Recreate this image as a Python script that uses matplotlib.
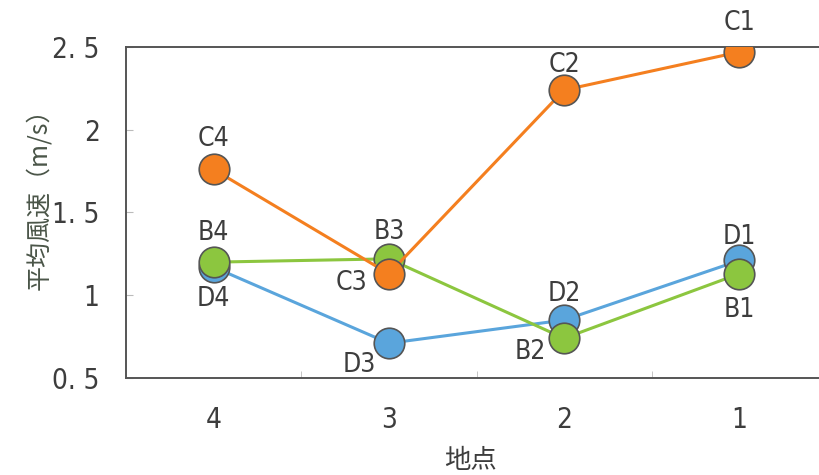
import matplotlib
matplotlib.use("Agg")
import matplotlib.pyplot as plt

plt.rcParams['font.family'] = ['DejaVu Sans', 'Noto Sans CJK JP']
plt.rcParams['font.stretch'] = 'condensed'

sites = ["4", "3", "2", "1"]
y_ticks = [0.5, 1.0, 1.5, 2.0, 2.5]
y_tick_labels = ["0. 5", "1", "1. 5", "2", "2. 5"]

series_b = [1.20, 1.22, 0.74, 1.13]
series_c = [1.76, 1.13, 2.24, 2.47]
series_d = [1.17, 0.71, 0.85, 1.21]

labels_b = ["B4", "B3", "B2", "B1"]
labels_c = ["C4", "C3", "C2", "C1"]
labels_d = ["D4", "D3", "D2", "D1"]

col_b = "#8cc63f"
col_c = "#f47f1f"
col_d = "#5aa5dc"
text_col = "#3d3d3d"
edge_col = "#555555"

fig = plt.figure(figsize=(8.19, 4.75), dpi=100)
ax = fig.add_axes([126 / 819, 97 / 475, 701 / 819, 331 / 475])

x = list(range(len(sites)))

for vals, col, z in [(series_d, col_d, 3), (series_b, col_b, 4), (series_c, col_c, 5)]:
    ax.plot(x, vals, color=col, lw=2.2, zorder=z, solid_capstyle="round")
    ax.plot(x, vals, ls="none", marker="o", ms=22, mfc=col, mec=edge_col,
            mew=1.2, zorder=z + 0.5)

# point labels: (dx, dy) offsets in points
offsets_b = [(0, 21), (0, 19), (-24, -10), (0, -26)]
offsets_c = [(0, 22), (-27, -7), (0, 18), (0, 21)]
offsets_d = [(0, -23), (-21, -16), (0, 19), (0, 17)]

for vals, labs, offs in [(series_b, labels_b, offsets_b),
                         (series_c, labels_c, offsets_c),
                         (series_d, labels_d, offsets_d)]:
    for xi, v, lab, (dx, dy) in zip(x, vals, labs, offs):
        ax.annotate(lab, (xi, v), xytext=(dx, dy), textcoords="offset points",
                    ha="center", va="center", fontsize=19, color=text_col,
                    zorder=10)

ax.set_xlim(-0.5, len(sites) - 0.5)
ax.set_ylim(0.5, 2.5)

ax.set_xticks(x)
ax.set_xticklabels(sites)
ax.set_xticks([i + 0.5 for i in range(len(sites) - 1)], minor=True)
ax.tick_params(axis="x", which="major", length=0, pad=20, labelsize=20,
               labelcolor=text_col)
ax.tick_params(axis="x", which="minor", direction="in", length=5,
               color="#bbbbbb")

ax.set_yticks(y_ticks)
ax.set_yticklabels(y_tick_labels)
ax.tick_params(axis="y", direction="in", length=5, pad=19, labelsize=20,
               labelcolor=text_col, color="#bbbbbb")

for side in ["left", "top", "bottom"]:
    ax.spines[side].set_color(edge_col)
    ax.spines[side].set_linewidth(1.4)
ax.spines["right"].set_visible(False)

ax.set_ylabel("平均風速（m/s）", fontsize=18, color="#4a5548",
              family=['Noto Sans CJK JP', 'DejaVu Sans'])
ax.yaxis.set_label_coords(-0.105, 0.56)
ax.set_xlabel("地点", fontsize=19, color=text_col,
              family=['Noto Sans CJK JP', 'DejaVu Sans'])
ax.xaxis.set_label_coords(0.491, -0.208)

fig.savefig("out.png", dpi=100)
